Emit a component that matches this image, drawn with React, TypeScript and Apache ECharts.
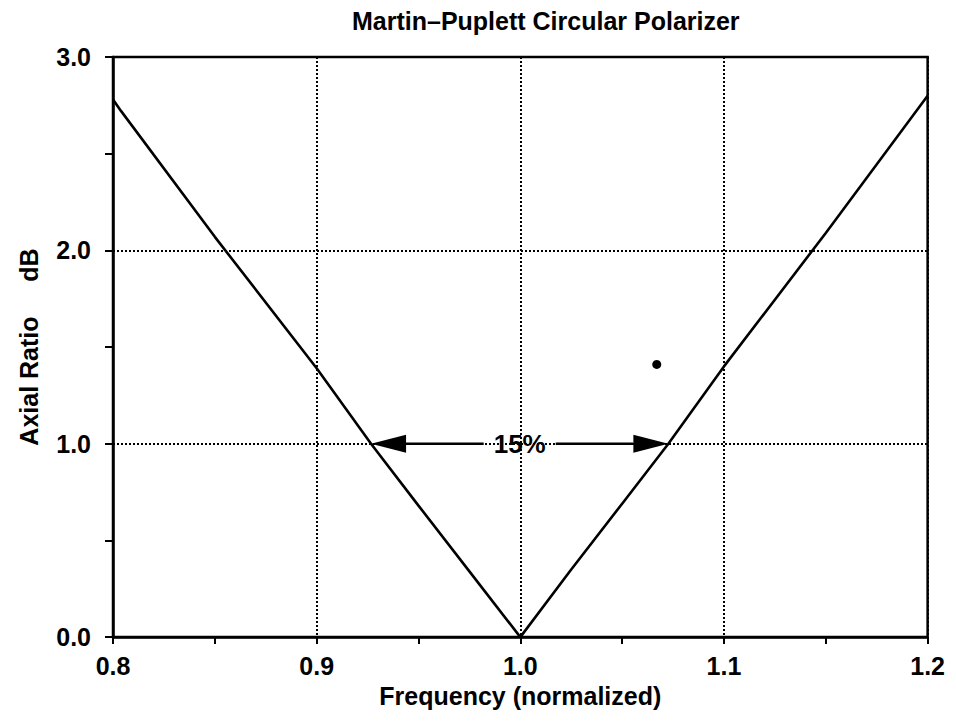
import React, { useEffect, useRef } from "react";
import * as echarts from "echarts";

const TITLE = "Martin\u2013Puplett Circular Polarizer";
const X_NAME = "Frequency (normalized)";
const Y_NAME = "Axial Ratio     dB";

const frequency = [0.8, 0.804, 0.85, 0.9, 0.9267, 0.95, 0.975, 1.0, 1.025, 1.05, 1.0727, 1.1, 1.15, 1.2];
const axialRatio = [2.78, 2.72, 2.07, 1.39, 1.0, 0.68, 0.34, 0.0, 0.35, 0.69, 1.0, 1.4, 2.09, 2.8];

const strayDot = [[1.067, 1.41]];

// bandwidth annotation: [left freq, right freq, level]
const bandLeft = 0.9267;
const bandRight = 1.0727;
const bandLevel = 1.0;
const bandLabel = "15%";

const FONT = "Liberation Sans";

export default function App() {
  const ref = useRef<HTMLDivElement>(null);
  useEffect(() => {
    if (!ref.current) return;
    const chart = echarts.init(ref.current, undefined, { renderer: "svg" });
    const line = frequency.map((f, i) => [f, axialRatio[i]]);
    chart.setOption({
      animation: false,
      backgroundColor: "#ffffff",
      title: {
        text: TITLE,
        left: 344,
        top: 0,
        padding: 0,
        textStyle: { fontFamily: FONT, fontWeight: "bold", fontSize: 25, color: "#000" },
      },
      grid: {
        left: 97,
        right: 17,
        top: 49,
        bottom: 69,
        show: true,
        borderColor: "#000",
        borderWidth: 2.5,
        backgroundColor: "transparent",
      },
      xAxis: {
        type: "value",
        min: 0.8,
        max: 1.2,
        interval: 0.1,
        name: X_NAME,
        nameLocation: "middle",
        nameGap: 38,
        nameTextStyle: { fontFamily: FONT, fontWeight: "bold", fontSize: 25, color: "#000" },
        axisLine: { show: true, lineStyle: { color: "#000", width: 2.5 } },
        axisTick: { show: true, length: 7, lineStyle: { color: "#000", width: 2 } },
        minorTick: { show: true, splitNumber: 2, length: 7, lineStyle: { color: "#000", width: 2 } },
        axisLabel: {
          margin: 16,
          fontFamily: FONT,
          fontWeight: "bold",
          fontSize: 25,
          color: "#000",
          formatter: (v: number) => v.toFixed(1),
        },
        splitLine: { show: true, lineStyle: { color: "#000", width: 2, type: [2, 2] } },
      },
      yAxis: {
        type: "value",
        min: 0,
        max: 3,
        interval: 1,
        name: Y_NAME,
        nameLocation: "middle",
        nameGap: 72,
        nameTextStyle: { fontFamily: FONT, fontWeight: "bold", fontSize: 25, color: "#000" },
        axisLine: { show: true, lineStyle: { color: "#000", width: 2.5 } },
        axisTick: { show: true, length: 8, lineStyle: { color: "#000", width: 2 } },
        minorTick: { show: true, splitNumber: 2, length: 8, lineStyle: { color: "#000", width: 2 } },
        axisLabel: {
          margin: 22,
          fontFamily: FONT,
          fontWeight: "bold",
          fontSize: 25,
          color: "#000",
          formatter: (v: number) => v.toFixed(1),
        },
        splitLine: { show: true, lineStyle: { color: "#000", width: 2, type: [2, 2] } },
      },
      series: [
        {
          type: "line",
          data: line,
          showSymbol: false,
          symbol: "none",
          lineStyle: { color: "#000", width: 2.6 },
          z: 3,
        },
        {
          type: "scatter",
          data: strayDot,
          symbolSize: 9,
          itemStyle: { color: "#000", opacity: 1 },
          z: 4,
        },
        {
          type: "custom",
          data: [[bandLeft, bandRight, bandLevel]],
          z: 5,
          renderItem: (params: any, api: any) => {
            const pl = api.coord([api.value(0), api.value(2)]);
            const pr = api.coord([api.value(1), api.value(2)]);
            const y = pl[1];
            const cx = (pl[0] + pr[0]) / 2;
            const head = 35;
            const half = 9;
            const gap = 36;
            return {
              type: "group",
              children: [
                {
                  type: "line",
                  shape: { x1: pl[0] + head, y1: y, x2: cx - gap, y2: y },
                  style: { stroke: "#000", lineWidth: 2.5 },
                },
                {
                  type: "line",
                  shape: { x1: cx + gap, y1: y, x2: pr[0] - head, y2: y },
                  style: { stroke: "#000", lineWidth: 2.5 },
                },
                {
                  type: "polygon",
                  shape: { points: [[pl[0], y], [pl[0] + head, y - half], [pl[0] + head, y + half]] },
                  style: { fill: "#000" },
                },
                {
                  type: "polygon",
                  shape: { points: [[pr[0], y], [pr[0] - head, y - half], [pr[0] - head, y + half]] },
                  style: { fill: "#000" },
                },
                {
                  type: "text",
                  x: cx,
                  y: y,
                  style: {
                    text: bandLabel,
                    fontFamily: FONT,
                    fontWeight: "bold",
                    fontSize: 26,
                    fill: "#000",
                    align: "center",
                    verticalAlign: "middle",
                  },
                },
              ],
            };
          },
        },
      ],
    });
    return () => chart.dispose();
  }, []);
  return <div ref={ref} style={{ width: 940, height: 705 }} />;
}
